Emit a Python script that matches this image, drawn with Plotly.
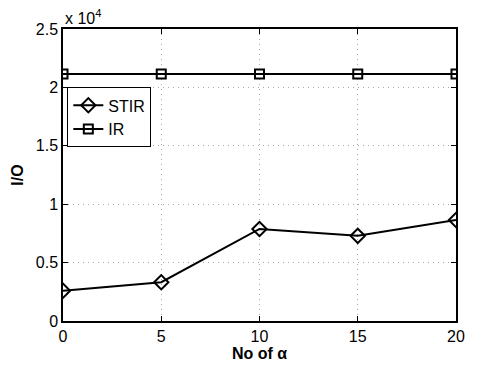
import plotly.graph_objects as go

x_vals = [0, 5, 10, 15, 20]
stir_vals = [2590, 3320, 7880, 7290, 8650]
ir_vals = [21140, 21140, 21140, 21140, 21140]
y_tick_vals = [0, 5000, 10000, 15000, 20000, 25000]
y_tick_text = ["0", "0.5", "1", "1.5", "2", "2.5"]
x_tick_vals = [0, 5, 10, 15, 20]

FONT = "Liberation Sans, Arial, sans-serif"

fig = go.Figure()
fig.add_trace(go.Scatter(x=x_vals, y=stir_vals, name="STIR", mode="lines+markers",
                         line=dict(color="black", width=2),
                         marker=dict(symbol="diamond-open", size=11, color="black",
                                     line=dict(width=2, color="black"))))
fig.add_trace(go.Scatter(x=x_vals, y=ir_vals, name="IR", mode="lines+markers",
                         line=dict(color="black", width=2),
                         marker=dict(symbol="square-open", size=9, color="black",
                                     line=dict(width=2, color="black"))))

axis_common = dict(showline=True, linecolor="black", linewidth=1.5, mirror="ticks",
                   ticks="inside", ticklen=5, tickcolor="black",
                   showgrid=True, gridcolor="#a8a8a8", griddash="1px,4px", gridwidth=1,
                   zeroline=False, tickfont=dict(family=FONT, size=16, color="black"))

fig.update_xaxes(range=[0, 20], tickvals=x_tick_vals,
                 title=dict(text="<b>No of α</b>", font=dict(family=FONT, size=16, color="black"), standoff=3),
                 **axis_common)
fig.update_yaxes(range=[0, 25000], tickvals=y_tick_vals, ticktext=y_tick_text,
                 title=dict(text="<b>I/O</b>", font=dict(family=FONT, size=16, color="black"), standoff=8),
                 **axis_common)

fig.add_annotation(text="x 10<sup>4</sup>", xref="paper", yref="paper", x=0.0, y=1.0,
                   xanchor="left", yanchor="bottom", showarrow=False, yshift=0,
                   font=dict(family=FONT, size=16, color="black"))

fig.update_layout(width=478, height=371, margin=dict(l=63, r=22, t=29, b=46),
                  paper_bgcolor="white", plot_bgcolor="white",
                  font=dict(family=FONT, size=16, color="black"),
                  legend=dict(x=0.011, y=0.80, xanchor="left", yanchor="top",
                              bgcolor="white", bordercolor="black", borderwidth=1,
                              font=dict(family=FONT, size=16, color="black"),
                              itemwidth=30, tracegroupgap=0))

fig.write_html("out.html")
